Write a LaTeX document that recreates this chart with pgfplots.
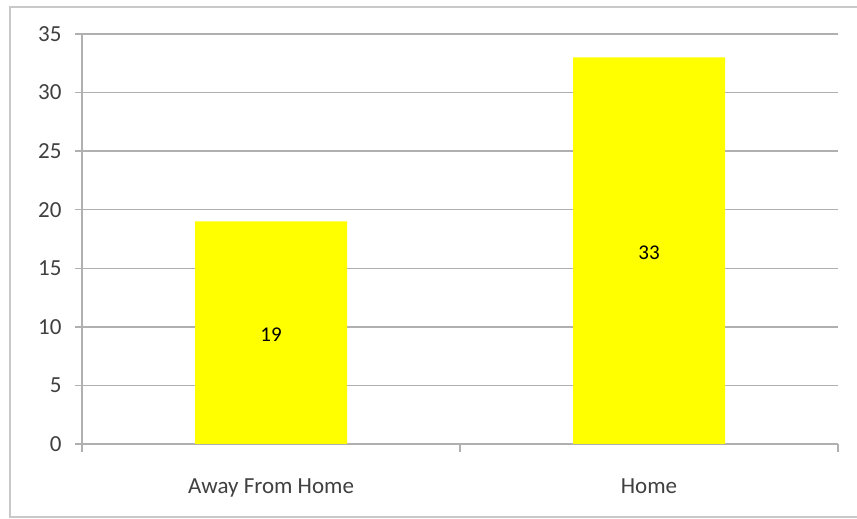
\documentclass[border=0pt]{standalone}
\usepackage{pgfplots}
\pgfplotsset{compat=1.18}
\usepackage{fontspec}
\setmainfont{Carlito}
\definecolor{gridgray}{HTML}{B0B0B0}
\definecolor{framegray}{HTML}{C8C8C8}
\definecolor{txtgray}{HTML}{404040}
\definecolor{baryellow}{HTML}{FFFF00}
\begin{document}
\begin{tikzpicture}[x=1pt,y=1pt]
\path[use as bounding box] (0,0) rectangle (857,519);
\draw[framegray, line width=2pt] (10,2) rectangle (870,512);
\begin{axis}[
  at={(82pt,75pt)}, anchor=south west,
  scale only axis, width=756pt, height=410pt,
  xmin=-0.5, xmax=1.5, ymin=0, ymax=35,
  axis x line=bottom, axis y line=left,
  axis line style={gridgray, line width=1.5pt, -},
  xtick={0,1}, xticklabels={Away From Home, Home},
  minor xtick={-0.5,0.5,1.5},
  major x tick style={draw=none},
  minor x tick style={gridgray, line width=1.5pt},
  minor tick length=8pt,
  ytick={0,5,...,35},
  ymajorgrids, major grid style={gridgray, line width=1.5pt},
  y tick style={gridgray, line width=1.5pt},
  tick align=outside, major tick length=7pt,
  ticklabel style={font=\fontsize{23}{26}\selectfont, text=txtgray},
  /pgf/number format/assume math mode=true,
  xticklabel style={yshift=-24pt},
  yticklabel style={xshift=-10pt},
  clip=false,
]
\addplot[ybar, bar width=152pt, fill=baryellow, draw=none] coordinates {(0,19) (1,33)};
\addplot[draw=none, mark=none, nodes near coords, point meta=explicit symbolic,
  every node near coord/.style={anchor=center, font=\fontsize{21}{24}\selectfont, text=black}]
  coordinates {(0,9.3) [19] (1,16.3) [33]};
\end{axis}
\end{tikzpicture}
\end{document}
